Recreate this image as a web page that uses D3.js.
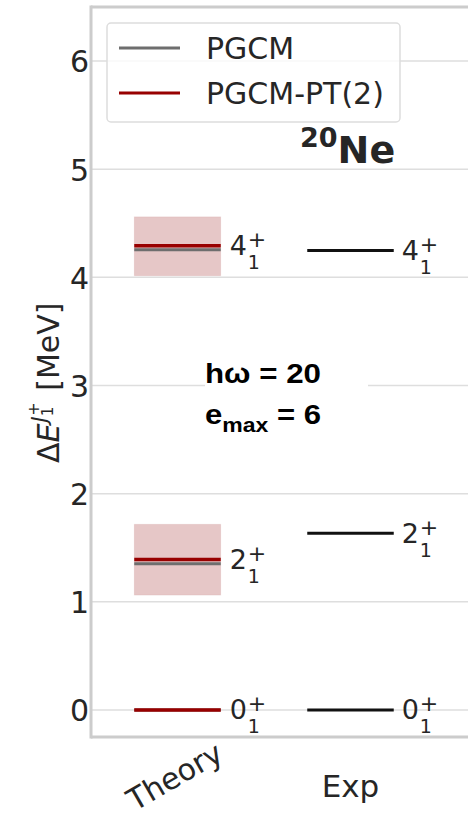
<!DOCTYPE html>
<html>
<head>
<meta charset="utf-8">
<script src="https://cdn.jsdelivr.net/npm/d3@7"></script>
<style>
  html, body { margin: 0; padding: 0; background: #fff; }
  svg { display: block; }
</style>
</head>
<body>
<div id="chart"></div>
<script>
// Low-lying spectrum of 20Ne: PGCM and PGCM-PT(2) vs experiment
const columns = ["Theory", "Exp"];
const spins = ["0", "2", "4"];              // J of each J_1^+ level
const pgcm = [0, 1.352, 4.256];             // MeV
const pgcmPT2 = [0, 1.392, 4.293];          // MeV
const pt2Low = [null, 1.062, 4.015];        // uncertainty band, MeV
const pt2High = [null, 1.717, 4.560];
const expt = [0, 1.634, 4.248];             // MeV
const yTicks = [0, 1, 2, 3, 4, 5, 6];
const legendLabels = ["PGCM", "PGCM-PT(2)"];

const W = 468, H = 820;
const colGray = "#6e6e6e", colRed = "#980000", colExp = "#111111";
const font = "'DejaVu Sans', sans-serif";

const svg = d3.select("#chart").append("svg")
  .attr("width", W).attr("height", H);

const plotL = 91, plotT = 7, plotB = 737;
const x = d3.scaleLinear().domain([-0.5, 1.7]).range([plotL, plotL + 2.2 * 173]);
const y = d3.scaleLinear().domain([-0.25, 6.5]).range([plotB, plotT]);
const colX = d => x(columns.indexOf(d));
const halfW = 0.25;

// horizontal grid
svg.append("g").selectAll("line").data(yTicks).join("line")
  .attr("x1", plotL).attr("x2", W)
  .attr("y1", d => y(d)).attr("y2", d => y(d))
  .attr("stroke", "#dedede").attr("stroke-width", 1.5);

// y axis built from the scale, styled as tick labels only
const yAxis = d3.axisLeft(y).tickValues(yTicks).tickSize(0).tickPadding(0).tickFormat(d3.format("d"));
const ya = svg.append("g").attr("transform", `translate(${plotL - 2},0)`).call(yAxis);
ya.select(".domain").remove();
ya.selectAll("text").attr("font-family", font).attr("font-size", 30)
  .attr("fill", "#262626").attr("dy", "0.36em");

// x tick labels
const xa = svg.append("g");
xa.append("text").text("Exp")
  .attr("x", colX("Exp")).attr("y", 797)
  .attr("text-anchor", "middle").attr("font-family", font).attr("font-size", 31).attr("fill", "#262626");
xa.append("text").text("Theory")
  .attr("transform", `translate(${colX("Theory") - 3},776) rotate(-30)`)
  .attr("text-anchor", "middle").attr("dy", "0.36em")
  .attr("font-family", font).attr("font-size", 30).attr("fill", "#262626");

// spines
svg.append("line").attr("x1", plotL).attr("x2", W).attr("y1", plotT).attr("y2", plotT)
  .attr("stroke", "#cccccc").attr("stroke-width", 3);
svg.append("line").attr("x1", plotL).attr("x2", W).attr("y1", plotB).attr("y2", plotB)
  .attr("stroke", "#cccccc").attr("stroke-width", 3);
svg.append("line").attr("x1", plotL).attr("x2", plotL).attr("y1", plotT - 1.5).attr("y2", plotB + 1.5)
  .attr("stroke", "#cccccc").attr("stroke-width", 3);

const tx0 = colX("Theory") - x(0) + x(-halfW), tx1 = colX("Theory") + x(halfW) - x(0);
const ex0 = colX("Exp") + x(-halfW) - x(0), ex1 = colX("Exp") + x(halfW) - x(0);

// PT(2) uncertainty bands
const bandIdx = d3.range(spins.length).filter(i => pt2Low[i] !== null);
svg.append("g").selectAll("rect").data(bandIdx).join("rect")
  .attr("x", tx0).attr("width", tx1 - tx0)
  .attr("y", i => y(pt2High[i])).attr("height", i => y(pt2Low[i]) - y(pt2High[i]))
  .attr("fill", "#8b0000").attr("fill-opacity", 0.22)
  .attr("stroke", "#8b0000").attr("stroke-opacity", 0.06);

// PGCM levels
svg.append("g").selectAll("line").data(pgcm).join("line")
  .attr("x1", tx0).attr("x2", tx1).attr("y1", d => y(d)).attr("y2", d => y(d))
  .attr("stroke", colGray).attr("stroke-width", 3);
// PGCM-PT(2) levels
svg.append("g").selectAll("line").data(pgcmPT2).join("line")
  .attr("x1", tx0).attr("x2", tx1).attr("y1", d => y(d)).attr("y2", d => y(d))
  .attr("stroke", colRed).attr("stroke-width", 3.5);
// experimental levels
svg.append("g").selectAll("line").data(expt).join("line")
  .attr("x1", ex0).attr("x2", ex1).attr("y1", d => y(d)).attr("y2", d => y(d))
  .attr("stroke", colExp).attr("stroke-width", 3);

// level labels J_1^+
function levelLabel(g, xs, yv, j) {
  const B = y(yv) + 9.5;
  g.append("text").text(j).attr("x", xs).attr("y", B)
    .attr("font-family", font).attr("font-size", 27).attr("fill", "#262626");
  g.append("text").text("1").attr("x", xs + 18).attr("y", B + 14)
    .attr("font-family", font).attr("font-size", 19).attr("fill", "#262626");
  g.append("text").text("+").attr("x", xs + 18).attr("y", B - 8)
    .attr("font-family", font).attr("font-size", 22).attr("fill", "#262626");
}
const lab = svg.append("g");
spins.forEach((j, i) => {
  levelLabel(lab, tx1 + 9, pgcmPT2[i], j);
  levelLabel(lab, ex1 + 8, expt[i], j);
});

// nucleus title
const ttl = svg.append("text").attr("x", 300).attr("y", 163)
  .attr("font-family", font).attr("font-weight", "bold").attr("fill", "#262626");
ttl.append("tspan").text("20").attr("font-size", 27).attr("dy", -16);
ttl.append("tspan").text("Ne").attr("font-size", 38).attr("dy", 16);

// parameter box
svg.append("rect").attr("x", 205).attr("y", 352).attr("width", 163).attr("height", 84).attr("fill", "#fff");
const pf = "'Liberation Sans', Arial, sans-serif";
svg.append("text").text("hω = 20").attr("x", 205).attr("y", 383)
  .attr("font-family", pf).attr("font-weight", "bold").attr("font-size", 27)
  .attr("textLength", 116).attr("lengthAdjust", "spacingAndGlyphs");
const em = svg.append("text").attr("x", 205).attr("y", 424)
  .attr("font-family", pf).attr("font-weight", "bold").attr("font-size", 27)
  .attr("textLength", 116).attr("lengthAdjust", "spacingAndGlyphs");
em.append("tspan").text("e");
em.append("tspan").text("max").attr("font-size", 20).attr("dy", 8);
em.append("tspan").text(" = 6").attr("dy", -8);

// y axis title
const yl = svg.append("text")
  .attr("transform", "translate(59,463) rotate(-90)")
  .attr("font-family", font).attr("font-size", 30).attr("fill", "#262626");
yl.append("tspan").text("Δ");
yl.append("tspan").text("E").attr("font-style", "italic");
yl.append("tspan").text("J").attr("font-style", "italic").attr("font-size", 21).attr("dy", -12).attr("dx", 1);
yl.append("tspan").text("1").attr("font-size", 15).attr("dy", 6);
yl.append("tspan").text("+").attr("font-size", 16).attr("dx", -9).attr("dy", -14);
yl.append("tspan").text(" [MeV]").attr("dy", 20).attr("dx", 2);

// legend
const lg = svg.append("g");
lg.append("rect").attr("x", 107).attr("y", 23).attr("width", 293).attr("height", 99)
  .attr("rx", 4).attr("fill", "#fff").attr("fill-opacity", 0.8)
  .attr("stroke", "#dddddd").attr("stroke-width", 1.5);
const legCols = [colGray, colRed];
legendLabels.forEach((t, i) => {
  const ly = 48 + i * 45;
  lg.append("line").attr("x1", 119).attr("x2", 180).attr("y1", ly).attr("y2", ly)
    .attr("stroke", legCols[i]).attr("stroke-width", 3);
  lg.append("text").text(t).attr("x", 206).attr("y", ly + 11)
    .attr("font-family", font).attr("font-size", 30).attr("fill", "#262626");
});
</script>
</body>
</html>
